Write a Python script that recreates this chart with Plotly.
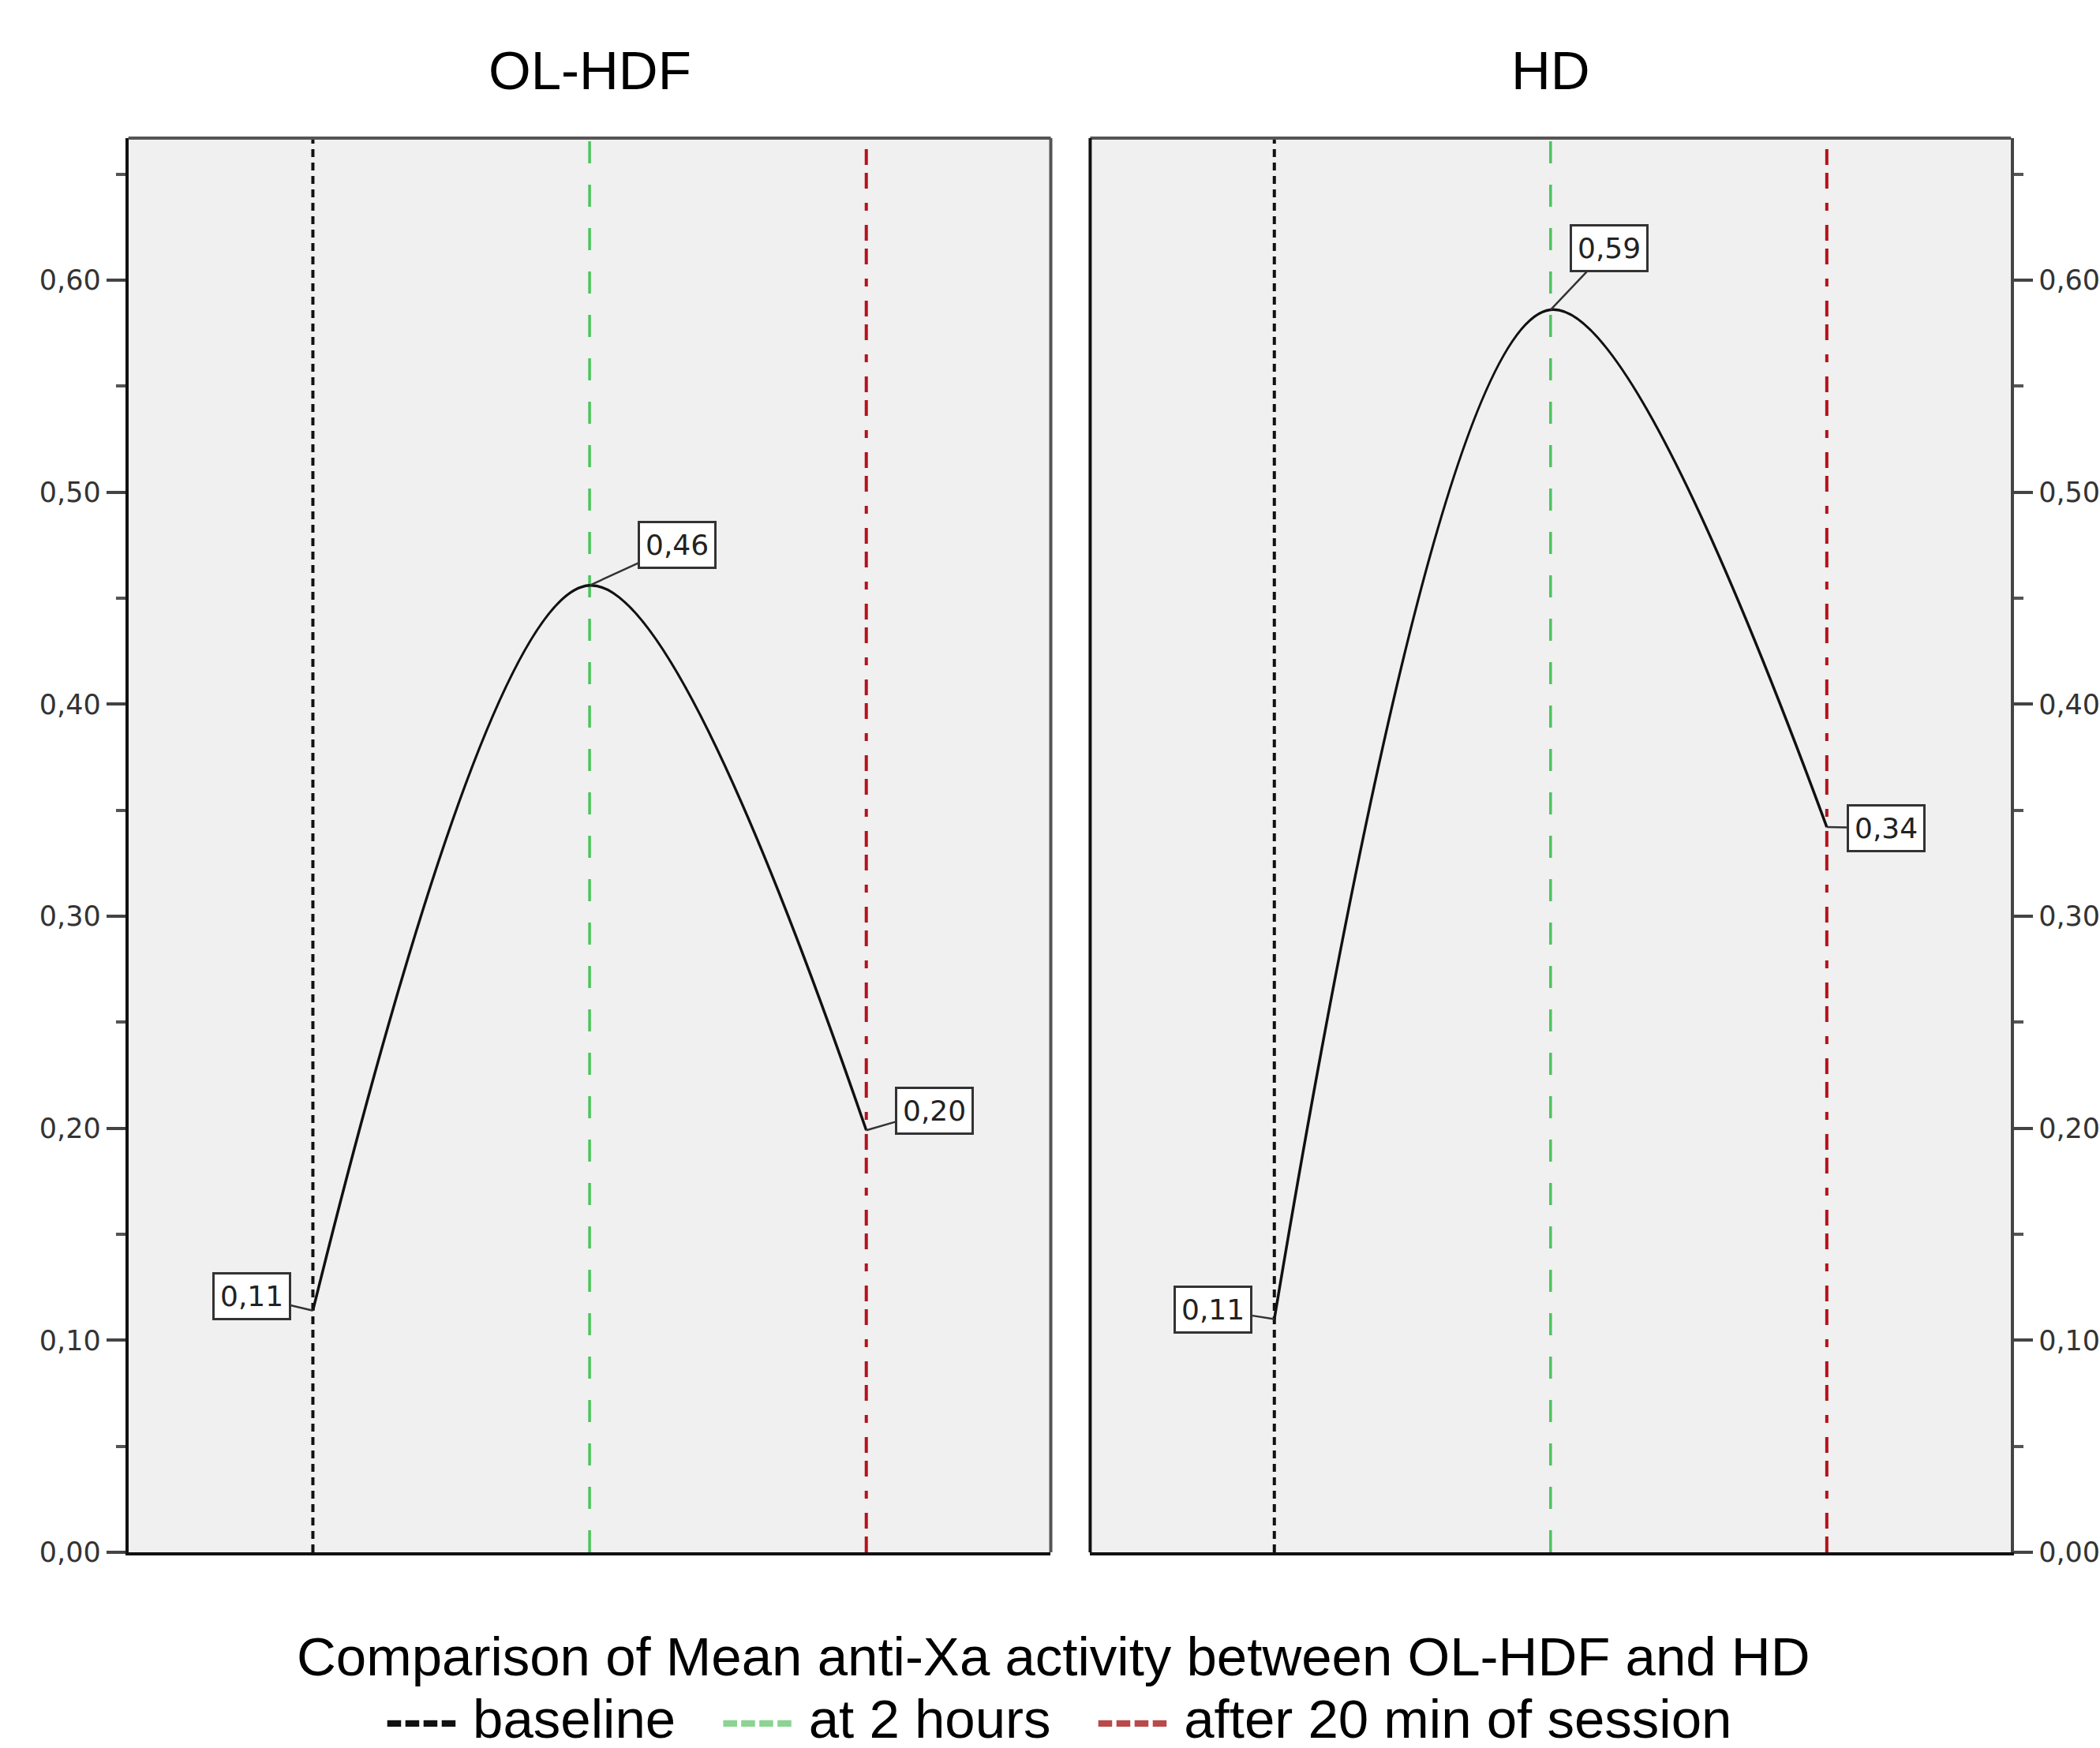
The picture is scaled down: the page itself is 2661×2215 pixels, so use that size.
import plotly.graph_objects as go

# ---- data ----
time_points = ["baseline", "at 2 hours", "after 20 min of session"]
time_idx = [0, 1, 2]
olhdf_values = [0.114, 0.456, 0.199]
hd_values = [0.110, 0.586, 0.342]
panel_titles = ["OL-HDF", "HD"]
ytick_vals = [0.0, 0.1, 0.2, 0.3, 0.4, 0.5, 0.6]
yminor_vals = [0.05, 0.15, 0.25, 0.35, 0.45, 0.55, 0.65]
# label offsets (px) for the value boxes: (ax, ay)
olhdf_label_offsets = [(-77, -18), (111, -51), (86, -25)]
hd_label_offsets = [(-78, -12), (74, -78), (75, 1)]

line_colors = ["#111111", "#4cc45c", "#b5121b"]
line_dashes = ["10px,7px", "28px,27px", "20px,10px,20px,18px,10px,18px"]
line_widths = [4, 3.5, 4]
legend_colors = ["#111111", "#8bd492", "#b94a4a"]

YMAX = 0.667
XR = [-0.6667, 2.6667]

W, H = 2661, 2215
SY = 0.9915  # vertical squeeze observed in the captured picture


def px_x(p):
    return p / W


def px_y(p):
    return 1 - (p / SY) / H


fig = go.Figure()

panels = [("x", "y", olhdf_values, olhdf_label_offsets),
          ("x2", "y2", hd_values, hd_label_offsets)]

for xa, ya, vals, offs in panels:
    for i, t in enumerate(time_idx):
        fig.add_trace(go.Scatter(
            x=[t, t], y=[0, YMAX], xaxis=xa, yaxis=ya, mode="lines",
            line=dict(color=line_colors[i], width=line_widths[i], dash=line_dashes[i]),
            showlegend=False, hoverinfo="skip"))
    fig.add_trace(go.Scatter(
        x=time_idx, y=vals, xaxis=xa, yaxis=ya, mode="lines",
        line=dict(color="#111111", width=3.5, shape="spline", smoothing=1.0),
        showlegend=False))

annotations = []
for (xa, ya, vals, offs) in panels:
    for t, v, (ax, ay) in zip(time_idx, vals, offs):
        annotations.append(dict(
            x=t, y=v, xref=xa, yref=ya, text=f"{v:.2f}".replace(".", ","),
            showarrow=True, arrowhead=0, arrowwidth=2.5, arrowcolor="#333333",
            ax=ax, ay=ay, standoff=0, startstandoff=0,
            font=dict(family="DejaVu Sans", size=36, color="#222222"),
            bgcolor="white", bordercolor="#333333", borderwidth=3, borderpad=7))

xd1 = [px_x(163), px_x(1334)]
xd2 = [px_x(1384), px_x(2553)]
yd = [px_y(1968), px_y(175)]

for dom, title in zip([xd1, xd2], panel_titles):
    annotations.append(dict(
        x=(dom[0] + dom[1]) / 2, y=px_y(90), xref="paper", yref="paper",
        text=title, showarrow=False, xanchor="center", yanchor="middle",
        font=dict(family="Liberation Sans", size=69, color="black")))

annotations.append(dict(
    x=px_x(1337), y=px_y(2101), xref="paper", yref="paper",
    text="Comparison of Mean anti-Xa activity between OL-HDF and HD",
    showarrow=False, xanchor="center", yanchor="middle",
    font=dict(family="Liberation Sans", size=69, color="black")))

legend_parts = []
for c, name in zip(legend_colors, time_points):
    legend_parts.append(f"<span style='color:{c}'><b>----</b></span> {name}")
annotations.append(dict(
    x=px_x(1344), y=px_y(2180), xref="paper", yref="paper",
    text="   ".join(legend_parts),
    showarrow=False, xanchor="center", yanchor="middle",
    font=dict(family="Liberation Sans", size=69, color="black")))

shapes = []
for dom in [xd1, xd2]:
    shapes.append(dict(type="line", xref="paper", yref="paper",
                       x0=dom[0], x1=dom[1], y0=yd[1], y1=yd[1],
                       line=dict(color="#555555", width=4)))
shapes.append(dict(type="line", xref="paper", yref="paper",
                   x0=xd1[1], x1=xd1[1], y0=yd[0], y1=yd[1],
                   line=dict(color="#555555", width=4)))
shapes.append(dict(type="line", xref="paper", yref="paper",
                   x0=xd2[0], x1=xd2[0], y0=yd[0], y1=yd[1],
                   line=dict(color="#111111", width=4)))

common_x = dict(range=XR, showticklabels=False, ticks="", showgrid=False,
                zeroline=False, showline=True, linecolor="#111111", linewidth=4,
                fixedrange=True)
common_y = dict(range=[0, YMAX], showgrid=False, zeroline=False, showline=True,
                linewidth=4, tickvals=ytick_vals, tickformat=".2f",
                ticks="outside", ticklen=24, tickwidth=4, tickcolor="#444444",
                tickfont=dict(family="DejaVu Sans", size=35, color="#333333"),
                minor=dict(tickvals=yminor_vals, ticks="outside", ticklen=12,
                           tickwidth=4, tickcolor="#555555"),
                fixedrange=True)

fig.update_layout(
    width=W, height=H,
    margin=dict(l=0, r=0, t=0, b=0),
    paper_bgcolor="white", plot_bgcolor="#f0f0f0",
    separators=", ",
    xaxis=dict(domain=xd1, anchor="y", **common_x),
    xaxis2=dict(domain=xd2, anchor="y2", **common_x),
    yaxis=dict(domain=yd, anchor="x", side="left", linecolor="#111111", **common_y),
    yaxis2=dict(domain=yd, anchor="x2", side="right", linecolor="#444444", **common_y),
    annotations=annotations, shapes=shapes, showlegend=False)

fig.write_html(
    "out.html",
    config={"displayModeBar": False},
    post_script="document.body.style.margin='0';document.body.style.overflow='hidden';",
)
